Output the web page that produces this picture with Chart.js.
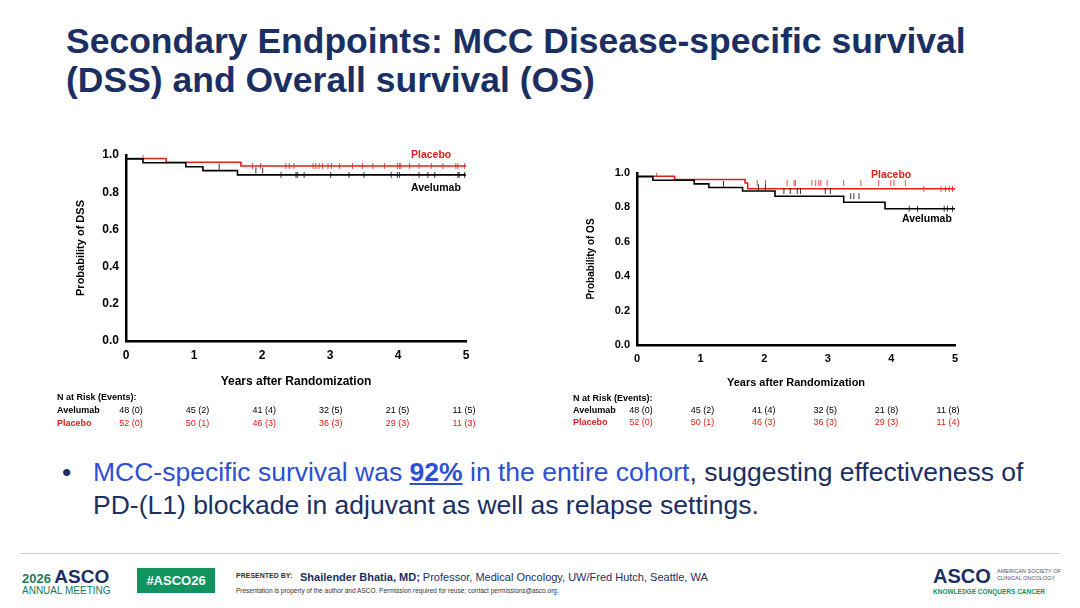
<!DOCTYPE html>
<html><head><meta charset="utf-8">
<script src="https://cdn.jsdelivr.net/npm/chart.js@4/dist/chart.umd.min.js"></script>
<style>
body{margin:0;width:1080px;height:608px;background:#fff;font-family:"Liberation Sans",Arial,sans-serif;position:relative;overflow:hidden}
.a{position:absolute;white-space:nowrap}
.title{left:66px;top:22px;font-size:35.5px;font-weight:bold;color:#1b2f63;line-height:39px}
.lab{font-size:10.5px;font-weight:bold}
.risk{font-size:9px;font-weight:bold}
.rc{transform:translateX(-50%);font-weight:normal}
.red{color:#e0201b}
</style></head><body>
<div class="a title">Secondary Endpoints: MCC Disease-specific survival<br>(DSS) and Overall survival (OS)</div>

<div class="a" style="left:70px;top:140px;width:404px;height:253px"><canvas id="dss"></canvas></div>
<div class="a" style="left:581px;top:158px;width:382px;height:236px"><canvas id="os"></canvas></div>

<div class="a lab red" style="left:411px;top:148px">Placebo</div>
<div class="a lab" style="left:411px;top:181px">Avelumab</div>
<div class="a lab red" style="left:871px;top:168px">Placebo</div>
<div class="a lab" style="left:902px;top:212px">Avelumab</div>
<div id="tables"></div>

<div class="a" style="left:62px;top:456px;font-size:26.5px;line-height:33px;color:#1b2f63">•</div>
<div class="a" style="left:93px;top:456px;font-size:26.5px;line-height:33px;color:#1b2f63"><span style="color:#2c4fd6">MCC-specific survival was <b><u>92%</u></b> in the entire cohort</span>, suggesting effectiveness of<br>PD-(L1) blockade in adjuvant as well as relapse settings.</div>

<div class="a" style="left:20px;top:553px;width:1040px;border-top:1px solid #ccc"></div>
<div class="a" style="left:22px;top:566px;font-size:12px;color:#1b7a5c"><b style="font-size:13px">2026</b> <b style="font-size:19px;color:#1b2f63">ASCO</b></div>
<div class="a" style="left:22px;top:585px;font-size:10px;color:#1b7a5c">ANNUAL MEETING</div>
<div class="a" style="left:137px;top:568px;width:78px;height:25px;background:#12935f;color:#fff;font-weight:bold;font-size:13px;line-height:25px;text-align:center">#ASCO26</div>
<div class="a" style="left:236px;top:572px;font-size:7px;font-weight:bold;color:#333">PRESENTED BY:</div>
<div class="a" style="left:300px;top:571px;font-size:11px;color:#1b2f63"><b>Shailender Bhatia, MD;</b> Professor, Medical Oncology, UW/Fred Hutch, Seattle, WA</div>
<div class="a" style="left:236px;top:587px;font-size:6.5px;color:#333">Presentation is property of the author and ASCO. Permission required for reuse; contact permissions@asco.org.</div>
<div class="a" style="left:933px;top:565px;font-size:20px;font-weight:bold;color:#1b2f63">ASCO</div>
<div class="a" style="left:997px;top:568px;font-size:5.5px;color:#555;line-height:7px">AMERICAN SOCIETY OF<br>CLINICAL ONCOLOGY</div>
<div class="a" style="left:933px;top:588px;font-size:6.5px;font-weight:bold;color:#12935f">KNOWLEDGE CONQUERS CANCER</div>

<script>
const years = [0, 1, 2, 3, 4, 5];
const yTicks = [0, 0.2, 0.4, 0.6, 0.8, 1.0];

// DSS: event times and survival after event
const dssAveT = [0, 0.25, 0.88, 1.13, 1.64, 2.17, 5];
const dssAveS = [1, 0.979, 0.958, 0.937, 0.916, 0.893, 0.893];
const dssPlaT = [0, 0.59, 1.69, 1.73, 5];
const dssPlaS = [1, 0.981, 0.961, 0.941, 0.941];
const dssAveCens = [1.37, 1.91, 2.01, 2.28, 2.50, 2.52, 2.62, 3.01, 3.28, 3.50, 3.90, 3.99, 4.02, 4.31, 4.44, 4.54, 4.88, 4.90, 4.98];
const dssPlaCens = [0.25, 1.86, 1.98, 2.35, 2.40, 2.47, 2.75, 2.79, 2.84, 2.89, 2.97, 3.02, 3.14, 3.33, 3.48, 3.63, 3.80, 3.99, 4.02, 4.04, 4.17, 4.31, 4.49, 4.66, 4.85, 4.88, 4.98];

// OS
const osAveT = [0, 0.25, 0.9, 1.13, 1.66, 2.17, 3.25, 3.9, 3.98, 5];
const osAveS = [1, 0.979, 0.958, 0.937, 0.916, 0.895, 0.865, 0.83, 0.792, 0.792];
const osPlaT = [0, 0.59, 1.7, 1.74, 4.32, 5];
const osPlaS = [1, 0.981, 0.962, 0.942, 0.908, 0.908];
const osAveCens = [1.36, 1.91, 2.02, 2.31, 2.41, 2.52, 2.57, 2.96, 3.04, 3.36, 3.41, 3.49, 4.28, 4.41, 4.83, 4.88, 4.96];
const osPlaCens = [0.31, 1.89, 2.02, 2.36, 2.47, 2.49, 2.75, 2.81, 2.86, 2.89, 2.99, 3.25, 3.52, 3.80, 3.99, 4.04, 4.22, 4.51, 4.78, 4.85, 4.91, 4.96];

const dssRiskAve = ["48 (0)", "45 (2)", "41 (4)", "32 (5)", "21 (5)", "11 (5)"];
const dssRiskPla = ["52 (0)", "50 (1)", "46 (3)", "36 (3)", "29 (3)", "11 (3)"];
const osRiskAve = ["48 (0)", "45 (2)", "41 (4)", "32 (5)", "21 (8)", "11 (8)"];
const osRiskPla = ["52 (0)", "50 (1)", "46 (3)", "36 (3)", "29 (3)", "11 (4)"];

const RED = "#e0201b";

function survAt(ts, ss, t) {
    let s = ss[0];
    for (let i = 0; i < ts.length; i++) if (ts[i] <= t) s = ss[i];
    return s;
}

function curve(ts, ss, color) {
    return {
        type: "line", data: ts.map((t, i) => ({ x: t, y: ss[i] })),
        borderColor: color, borderWidth: 1.6, stepped: "after", pointRadius: 0, fill: false
    };
}

function cens(ts, ss, times, color) {
    return {
        type: "scatter", data: times.map(t => ({ x: t, y: survAt(ts, ss, t) })),
        pointStyle: "line", rotation: 90, pointRadius: 3, borderColor: color, borderWidth: 0.8
    };
}

function makeChart(id, yLabel, aT, aS, aC, pT, pS, pC, yW, xH, fs) {
    new Chart(document.getElementById(id), {
        data: {
            datasets: [
                curve(aT, aS, "#000"), cens(aT, aS, aC, "#000"),
                curve(pT, pS, RED), cens(pT, pS, pC, RED)
            ]
        },
        options: {
            responsive: true, maintainAspectRatio: false, animation: false,
            layout: { padding: { top: 15, right: 8 } },
            plugins: { legend: { display: false }, tooltip: { enabled: false } },
            scales: {
                x: {
                    type: "linear", min: 0, max: 5,
                    afterBuildTicks: a => { a.ticks = years.map(v => ({ value: v })); },
                    afterFit: a => { a.height = xH; },
                    grid: { display: false, drawTicks: true, tickLength: 4, tickColor: "#000" },
                    border: { color: "#000", width: 2.5 },
                    ticks: { color: "#000", font: { size: fs, weight: "bold", family: "Liberation Sans" }, padding: 3 },
                    title: { display: true, text: "Years after Randomization", color: "#000", font: { size: fs, weight: "bold", family: "Liberation Sans" }, padding: { top: 3 } }
                },
                y: {
                    min: 0, max: 1,
                    afterBuildTicks: a => { a.ticks = yTicks.map(v => ({ value: v })); },
                    afterFit: a => { a.width = yW; },
                    grid: { display: false, tickLength: 4, tickColor: "#000" },
                    border: { color: "#000", width: 2.5 },
                    ticks: { color: "#000", font: { size: fs, weight: "bold", family: "Liberation Sans" }, padding: 3, callback: v => v.toFixed(1) },
                    title: { display: true, text: yLabel, color: "#000", font: { size: fs - 1, weight: "bold", family: "Liberation Sans" }, padding: { bottom: 8 } }
                }
            }
        }
    });
}

makeChart("dss", "Probability of DSS", dssAveT, dssAveS, dssAveCens, dssPlaT, dssPlaS, dssPlaCens, 56, 52, 12);
makeChart("os", "Probability of OS", osAveT, osAveS, osAveCens, osPlaT, osPlaS, osPlaCens, 56, 49, 11);

function table(x0, x1, top, nameX, ave, pla, rowH) {
    let h = `<div class="a risk" style="left:${nameX}px;top:${top}px">N at Risk (Events):</div>`;
    h += `<div class="a risk" style="left:${nameX}px;top:${top + rowH}px">Avelumab</div>`;
    h += `<div class="a risk red" style="left:${nameX}px;top:${top + 2 * rowH}px">Placebo</div>`;
    years.forEach((y, i) => {
        const x = x0 + (x1 - x0) * y / 5;
        h += `<div class="a risk rc" style="left:${x}px;top:${top + rowH}px">${ave[i]}</div>`;
        h += `<div class="a risk rc red" style="left:${x}px;top:${top + 2 * rowH}px">${pla[i]}</div>`;
    });
    return h;
}
document.getElementById("tables").innerHTML =
    table(131, 464, 392, 57, dssRiskAve, dssRiskPla, 13) +
    table(641, 948, 393, 573, osRiskAve, osRiskPla, 12);
</script>
</body></html>
